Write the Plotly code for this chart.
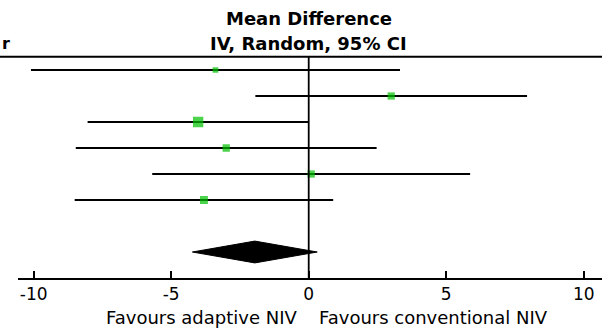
import plotly.graph_objects as go

# Per-study mean differences (IV, random effects) with 95% CI and weight (%)
mean_diff = [-3.39, 3.00, -4.02, -3.00, 0.09, -3.81]
ci_low = [-10.10, -1.94, -8.04, -8.47, -5.69, -8.51]
ci_high = [3.32, 7.94, 0.00, 2.47, 5.87, 0.89]
weight = [9.1, 14.6, 29.6, 14.6, 14.6, 17.5]

# Pooled estimate
pooled_md = -1.96
pooled_low = -4.23
pooled_high = 0.31

tick_vals = [-10, -5, 0, 5, 10]
tick_text = ["-10", "-5", "0", "5", "10"]

FONT = "DejaVu Sans"
GREEN = "#00c000"

rows = list(range(1, len(mean_diff) + 1))
pooled_row = len(mean_diff) + 2

fig = go.Figure()

# CI whiskers
line_x, line_y = [], []
for r, lo, hi in zip(rows, ci_low, ci_high):
    line_x += [lo, hi, None]
    line_y += [r, r, None]
fig.add_trace(go.Scatter(x=line_x, y=line_y, mode="lines",
                         line=dict(color="black", width=1.8),
                         hoverinfo="skip", showlegend=False))

# Point estimates, square area proportional to weight
fig.add_trace(go.Scatter(
    x=mean_diff, y=rows, mode="markers",
    marker=dict(symbol="square", color=GREEN,
                size=[1.9 * w ** 0.5 for w in weight], line=dict(width=0)),
    showlegend=False))

# Pooled diamond
h = 0.42
fig.add_trace(go.Scatter(
    x=[pooled_low, pooled_md, pooled_high, pooled_md, pooled_low],
    y=[pooled_row, pooled_row - h, pooled_row, pooled_row + h, pooled_row],
    mode="lines", fill="toself", fillcolor="black",
    line=dict(color="black", width=1), hoverinfo="skip", showlegend=False))

shapes = [
    # header rule across the full width
    dict(type="line", xref="paper", yref="y", x0=0, x1=1, y0=0.49, y1=0.49,
         line=dict(color="black", width=2)),
    # line of no effect
    dict(type="line", xref="x", yref="y", x0=0, x1=0, y0=0.49, y1=9,
         line=dict(color="black", width=1.8)),
]

annotations = [
    dict(text="<b>Mean Difference</b>", xref="x", yref="paper", x=0, y=1 - 18 / 330,
         xanchor="center", yanchor="middle", showarrow=False,
         font=dict(family=FONT, size=18, color="black")),
    dict(text="<b>IV, Random, 95% CI</b>", xref="x", yref="paper", x=0, y=1 - 44 / 330,
         xanchor="center", yanchor="middle", showarrow=False,
         font=dict(family=FONT, size=18, color="black")),
    dict(text="<b>r</b>", xref="paper", yref="paper", x=0, y=1 - 43 / 330,
         xanchor="left", yanchor="middle", showarrow=False,
         font=dict(family=FONT, size=16, color="black")),
    dict(text="Favours adaptive NIV", xref="x", yref="paper", x=-0.35, y=1 - 317 / 330,
         xanchor="right", yanchor="middle", showarrow=False,
         font=dict(family=FONT, size=18, color="black")),
    dict(text="Favours conventional NIV", xref="x", yref="paper", x=0.3, y=1 - 317 / 330,
         xanchor="left", yanchor="middle", showarrow=False,
         font=dict(family=FONT, size=18, color="black")),
]

fig.update_layout(
    width=602, height=330,
    margin=dict(l=0, r=0, t=0, b=0),
    paper_bgcolor="white", plot_bgcolor="white",
    shapes=shapes, annotations=annotations,
    xaxis=dict(domain=[18.3 / 602, 1], range=[-10.56, 10.665],
               tickvals=tick_vals, ticktext=tick_text,
               ticks="inside", ticklen=7, tickwidth=1.8, tickcolor="black",
               showline=True, linecolor="black", linewidth=2,
               showgrid=False, zeroline=False,
               tickfont=dict(family=FONT, size=17, color="black")),
    yaxis=dict(domain=[52 / 330, 1], range=[9.0, -1.6923],
               showticklabels=False, showgrid=False, zeroline=False,
               showline=False, ticks=""),
)

fig.write_html("out.html")
